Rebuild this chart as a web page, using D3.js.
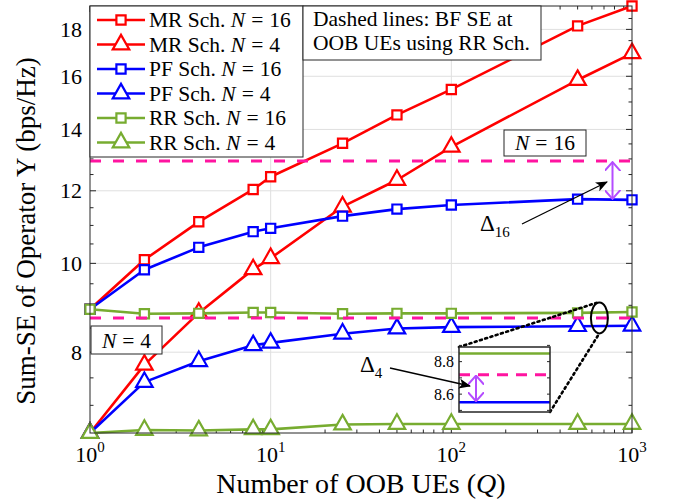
<!DOCTYPE html>
<html>
<head>
<meta charset="utf-8">
<script src="https://cdn.jsdelivr.net/npm/d3@7"></script>
<style>
  body { margin: 0; background: #fff; }
  svg text { fill: #000; }
</style>
</head>
<body>
<svg id="chart" width="673" height="502" font-family="'Liberation Serif', 'DejaVu Serif', serif"></svg>
<script>
// number of OOB UEs
const Q = [1, 2, 4, 8, 10, 25, 50, 100, 500, 1000];
// sum-SE of operator Y (bps/Hz)
const mrN16 = [8.91, 10.09, 11.10, 12.04, 12.43, 13.52, 14.52, 15.48, 18.16, 19.09];
const mrN4  = [6.53, 7.75, 8.83, 9.85, 10.13, 11.53, 12.33, 13.40, 15.85, 16.95];
const pfN16 = [8.91, 9.84, 10.41, 10.83, 10.92, 11.26, 11.46, 11.58, 11.75, 11.73];
const pfN4  = [6.53, 7.42, 7.82, 8.14, 8.19, 8.38, 8.49, 8.52, 8.54, 8.55];
const rrN16 = [8.91, 8.81, 8.82, 8.84, 8.84, 8.81, 8.82, 8.82, 8.83, 8.85];
const rrN4  = [6.53, 6.58, 6.57, 6.59, 6.59, 6.67, 6.68, 6.68, 6.68, 6.68];
// BF SE at OOB UEs (dashed)
const bfN16 = 12.93;
const bfN4 = 8.72;

const xMajor = [1, 10, 100, 1000];
const yMajor = [8, 10, 12, 14, 16, 18];
const insetTicks = [8.6, 8.8];

const series = [
  {sch: "MR", n: 16, vals: mrN16, color: "#ff0000", mark: "square"},
  {sch: "MR", n: 4,  vals: mrN4,  color: "#ff0000", mark: "tri"},
  {sch: "PF", n: 16, vals: pfN16, color: "#0000ff", mark: "square"},
  {sch: "PF", n: 4,  vals: pfN4,  color: "#0000ff", mark: "tri"},
  {sch: "RR", n: 16, vals: rrN16, color: "#77ac30", mark: "square"},
  {sch: "RR", n: 4,  vals: rrN4,  color: "#77ac30", mark: "tri"}
];

const svg = d3.select("#chart");
const FONT = "'Liberation Serif', 'DejaVu Serif', serif";
const L = 90, R = 632, T = 6, B = 433;
const axisCol = "#262626";
const pink = "#ff14a0", violet = "#b44cff";

const allVals = series.flatMap(s => s.vals);
const x = d3.scaleLog().domain([1, 1000]).range([L, R]);
const y = d3.scaleLog().domain(d3.extent(allVals)).range([B, T]);

function markerPath(kind) {
  if (kind === "square") { const s = 4.6; return `M${-s},${-s}h${2*s}v${2*s}h${-2*s}Z`; }
  const w = 16.5, h = 14.5;
  return `M0,${-h*2/3}L${w/2},${h/3}L${-w/2},${h/3}Z`;
}
function txt(sel) { return sel.append("text").attr("font-family", FONT); }
// "N = n" in math style: italic N, spaced equals sign
function nEq(t, n) {
  t.append("tspan").attr("font-style", "italic").text("N");
  t.append("tspan").attr("dx", 6).text("=");
  t.append("tspan").attr("dx", 6).text(n);
}

// grid
const grid = svg.append("g").attr("stroke", "#dfdfdf").attr("stroke-width", 1);
grid.selectAll(".gx").data(xMajor.slice(1, -1)).join("line")
  .attr("x1", d => x(d)).attr("x2", d => x(d)).attr("y1", T).attr("y2", B);
grid.selectAll(".gy").data(yMajor).join("line")
  .attr("x1", L).attr("x2", R).attr("y1", d => y(d)).attr("y2", d => y(d));

// ticks (inward, all four sides)
const xMinor = [];
[1, 10, 100].forEach(d => { for (let m = 2; m <= 9; m++) xMinor.push(d * m); });
const yMinor = d3.range(6.5, 19.01, 0.5).filter(v => !yMajor.includes(v) && v >= y.domain()[0] && v <= y.domain()[1]);
const ticks = svg.append("g").attr("stroke", axisCol).attr("stroke-width", 1);
function xTicks(vals, len) {
  vals.forEach(v => {
    ticks.append("line").attr("x1", x(v)).attr("x2", x(v)).attr("y1", B).attr("y2", B - len);
    ticks.append("line").attr("x1", x(v)).attr("x2", x(v)).attr("y1", T).attr("y2", T + len);
  });
}
function yTicks(vals, len) {
  vals.forEach(v => {
    ticks.append("line").attr("x1", L).attr("x2", L + len).attr("y1", y(v)).attr("y2", y(v));
    ticks.append("line").attr("x1", R).attr("x2", R - len).attr("y1", y(v)).attr("y2", y(v));
  });
}
xTicks(xMajor, 6); xTicks(xMinor, 3.5);
yTicks(yMajor, 6); yTicks(yMinor, 3.5);

// series
const line = d3.line().x((d, i) => x(Q[i])).y(d => y(d));
series.forEach(s => {
  const g = svg.append("g");
  g.append("path").datum(s.vals).attr("d", line)
    .attr("fill", "none").attr("stroke", s.color).attr("stroke-width", 2.6).attr("stroke-linejoin", "round");
  g.selectAll("path.m").data(s.vals).join("path").attr("class", "m")
    .attr("transform", (d, i) => `translate(${x(Q[i])},${y(d)})`)
    .attr("d", markerPath(s.mark))
    .attr("fill", "#fff").attr("stroke", s.color).attr("stroke-width", 2.2);
});

// dashed BF lines
[bfN16, bfN4].forEach(v => {
  svg.append("line").attr("x1", L).attr("x2", R).attr("y1", y(v)).attr("y2", y(v))
    .attr("stroke", pink).attr("stroke-width", 3).attr("stroke-dasharray", "11,12");
});

// axes box
svg.append("rect").attr("x", L).attr("y", T).attr("width", R - L).attr("height", B - T)
  .attr("fill", "none").attr("stroke", axisCol).attr("stroke-width", 1);

// tick labels
xMajor.forEach(v => {
  const t = txt(svg).attr("x", x(v)).attr("y", 462).attr("text-anchor", "middle").attr("font-size", 22);
  t.append("tspan").text("10");
  t.append("tspan").attr("dy", -10).attr("font-size", 15).text(Math.round(Math.log10(v)));
});
yMajor.forEach(v => {
  txt(svg).attr("x", 82).attr("y", y(v) + 7.5).attr("text-anchor", "end").attr("font-size", 22).text(v);
});

// axis labels
const xt = txt(svg).attr("x", (L + R) / 2).attr("y", 493).attr("text-anchor", "middle").attr("font-size", 28);
xt.append("tspan").text("Number of OOB UEs (");
xt.append("tspan").attr("font-style", "italic").text("Q");
xt.append("tspan").text(")");
txt(svg).attr("transform", "translate(35,231) rotate(-90)").attr("text-anchor", "middle")
  .attr("font-size", 27).text("Sum-SE of Operator Y (bps/Hz)");

// legend
const leg = svg.append("g");
leg.append("rect").attr("x", L).attr("y", T).attr("width", 213).attr("height", 151)
  .attr("fill", "#fff").attr("stroke", axisCol).attr("stroke-width", 1);
series.forEach((s, i) => {
  const cy = 20 + i * 24.5;
  leg.append("line").attr("x1", 97).attr("x2", 145).attr("y1", cy).attr("y2", cy)
    .attr("stroke", s.color).attr("stroke-width", 2.6);
  leg.append("path").attr("transform", `translate(121,${cy})`).attr("d", markerPath(s.mark))
    .attr("fill", "#fff").attr("stroke", s.color).attr("stroke-width", 2.2);
  const t = txt(leg).attr("x", 149).attr("y", cy + 7).attr("font-size", 21.5);
  t.append("tspan").text(`${s.sch} Sch.\u00a0`);
  nEq(t, s.n);
});

// note box
const note = svg.append("g");
note.append("rect").attr("x", 303).attr("y", T).attr("width", 238).attr("height", 54)
  .attr("fill", "#fff").attr("stroke", axisCol).attr("stroke-width", 1);
txt(note).attr("x", 313).attr("y", 26).attr("font-size", 21.5).text("Dashed lines: BF SE at");
txt(note).attr("x", 313).attr("y", 50).attr("font-size", 21.5).text("OOB UEs using RR Sch.");

// N labels
function nBox(x0, y0, w, h, n) {
  svg.append("rect").attr("x", x0).attr("y", y0).attr("width", w).attr("height", h)
    .attr("fill", "#fff").attr("stroke", axisCol).attr("stroke-width", 1);
  const t = txt(svg).attr("x", x0 + w / 2).attr("y", y0 + h - 6).attr("text-anchor", "middle").attr("font-size", 21.5);
  nEq(t, n);
}
nBox(504, 130, 82, 26, 16);
nBox(91, 326, 71, 28, 4);

// arrows
const defs = svg.append("defs");
defs.append("marker").attr("id", "blk").attr("viewBox", "0 0 12 10").attr("refX", 11).attr("refY", 5)
  .attr("markerWidth", 12).attr("markerHeight", 10).attr("markerUnits", "userSpaceOnUse").attr("orient", "auto")
  .append("path").attr("d", "M0,0L12,5L0,10L3,5Z").attr("fill", "#000");
defs.append("marker").attr("id", "vio").attr("viewBox", "0 0 10 16").attr("refX", 9).attr("refY", 8)
  .attr("markerWidth", 10).attr("markerHeight", 16).attr("markerUnits", "userSpaceOnUse").attr("orient", "auto-start-reverse")
  .append("path").attr("d", "M0,0L9,8L0,16").attr("fill", "none").attr("stroke", violet).attr("stroke-width", 2);

function delta(x0, y0, sub) {
  const t = txt(svg).attr("x", x0).attr("y", y0).attr("font-size", 23);
  t.append("tspan").text("\u0394");
  t.append("tspan").attr("dy", 6).attr("font-size", 15).text(sub);
}
// Delta 16
delta(480, 231, "16");
svg.append("line").attr("x1", 522).attr("y1", 224).attr("x2", 607).attr("y2", 182)
  .attr("stroke", "#000").attr("stroke-width", 1.3).attr("marker-end", "url(#blk)");
const xd = x(780);
svg.append("line").attr("x1", xd).attr("x2", xd).attr("y1", y(bfN16) + 1).attr("y2", y(pfN16[9]) - 1)
  .attr("stroke", violet).attr("stroke-width", 2)
  .attr("marker-start", "url(#vio)").attr("marker-end", "url(#vio)");

// zoom ellipse + dotted connectors
const ex = x(660), ey = y(bfN4);
svg.append("ellipse").attr("cx", ex).attr("cy", ey).attr("rx", 8.5).attr("ry", 15.5)
  .attr("fill", "none").attr("stroke", "#000").attr("stroke-width", 2);

// inset
const iL = 459, iR = 550, iT = 347, iB = 412;
const yi = d3.scaleLinear().domain([8.49, 8.89]).range([iB, iT]);
const dots = svg.append("g").attr("stroke", "#000").attr("stroke-width", 2.6).attr("stroke-dasharray", "2,3.5").attr("stroke-linecap", "round");
dots.append("line").attr("x1", iL).attr("y1", iT).attr("x2", ex - 3).attr("y2", ey - 15);
dots.append("line").attr("x1", iR).attr("y1", iB).attr("x2", ex - 1).attr("y2", ey + 17);

const inset = svg.append("g");
inset.append("rect").attr("x", iL).attr("y", iT).attr("width", iR - iL).attr("height", iB - iT)
  .attr("fill", "#fff").attr("stroke", "none");
inset.append("line").attr("x1", iL).attr("x2", iR).attr("y1", yi(rrN16[9])).attr("y2", yi(rrN16[9]))
  .attr("stroke", "#77ac30").attr("stroke-width", 2.6);
inset.append("line").attr("x1", iL).attr("x2", iR).attr("y1", yi(bfN4)).attr("y2", yi(bfN4))
  .attr("stroke", pink).attr("stroke-width", 3).attr("stroke-dasharray", "11,8");
inset.append("line").attr("x1", iL).attr("x2", iR).attr("y1", yi(pfN4[9])).attr("y2", yi(pfN4[9]))
  .attr("stroke", "#0000ff").attr("stroke-width", 2.6);
d3.range(8.5, 8.9, 0.1).forEach(v => {
  inset.append("line").attr("x1", iL).attr("x2", iL + 3).attr("y1", yi(v)).attr("y2", yi(v)).attr("stroke", axisCol);
  inset.append("line").attr("x1", iR).attr("x2", iR - 3).attr("y1", yi(v)).attr("y2", yi(v)).attr("stroke", axisCol);
});
inset.append("rect").attr("x", iL).attr("y", iT).attr("width", iR - iL).attr("height", iB - iT)
  .attr("fill", "none").attr("stroke", axisCol).attr("stroke-width", 1.5);
insetTicks.forEach(v => {
  txt(inset).attr("x", iL - 5).attr("y", yi(v) + 5.5).attr("text-anchor", "end").attr("font-size", 16)
    .attr("fill", "#333").text(v.toFixed(1));
});
const xdi = 476;
inset.append("line").attr("x1", xdi).attr("x2", xdi).attr("y1", yi(bfN4) + 1).attr("y2", yi(pfN4[9]) - 1)
  .attr("stroke", violet).attr("stroke-width", 2)
  .attr("marker-start", "url(#vio)").attr("marker-end", "url(#vio)");

// Delta 4
delta(360, 372, "4");
svg.append("line").attr("x1", 390).attr("y1", 368).attr("x2", 470).attr("y2", 386)
  .attr("stroke", "#000").attr("stroke-width", 1.3).attr("marker-end", "url(#blk)");
</script>
</body>
</html>
